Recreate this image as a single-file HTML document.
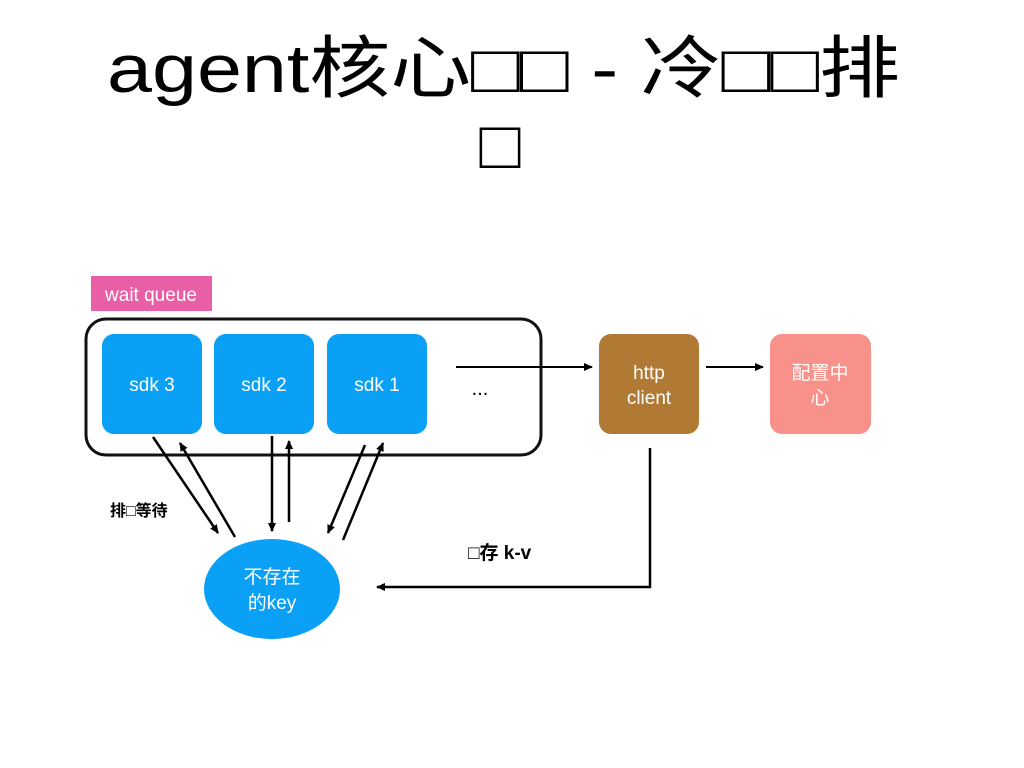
<!DOCTYPE html>
<html><head><meta charset="utf-8"><style>
html,body{margin:0;padding:0;background:#fff;width:1024px;height:768px;overflow:hidden}
svg{display:block}
</style></head><body>
<svg width="1024" height="768" viewBox="0 0 1024 768" xmlns="http://www.w3.org/2000/svg">
<defs>
<marker id="ah" markerWidth="10" markerHeight="10" refX="8" refY="5" orient="auto" markerUnits="userSpaceOnUse">
<path d="M0,1 L9,5 L0,9 z" fill="#000"/>
</marker>
</defs>
<g font-family="Liberation Sans, Noto Sans CJK SC, sans-serif">
<text x="107" y="92" font-size="68" fill="#000" textLength="793" lengthAdjust="spacingAndGlyphs">agent核心□□ - 冷□□排</text>
<text x="500" y="168" font-size="68" fill="#000" text-anchor="middle">□</text>

<rect x="91" y="276" width="121" height="35" fill="#e85fa6"/>
<text x="151" y="301" font-size="19" fill="#fff" text-anchor="middle">wait queue</text>

<rect x="86" y="319" width="455" height="136" rx="20" fill="#fff" stroke="#111" stroke-width="3"/>

<rect x="102" y="334" width="100" height="100" rx="12" fill="#0aa0f5"/>
<rect x="214" y="334" width="100" height="100" rx="12" fill="#0aa0f5"/>
<rect x="327" y="334" width="100" height="100" rx="12" fill="#0aa0f5"/>
<text x="152" y="391" font-size="19" fill="#fff" text-anchor="middle">sdk 3</text>
<text x="264" y="391" font-size="19" fill="#fff" text-anchor="middle">sdk 2</text>
<text x="377" y="391" font-size="19" fill="#fff" text-anchor="middle">sdk 1</text>
<text x="480" y="395" font-size="20" fill="#000" text-anchor="middle">...</text>

<line x1="456" y1="367" x2="592" y2="367" stroke="#000" stroke-width="2" marker-end="url(#ah)"/>
<rect x="599" y="334" width="100" height="100" rx="12" fill="#b07a35"/>
<text x="649" y="379" font-size="19" fill="#fff" text-anchor="middle">http</text>
<text x="649" y="404" font-size="19" fill="#fff" text-anchor="middle">client</text>

<line x1="706" y1="367" x2="763" y2="367" stroke="#000" stroke-width="2" marker-end="url(#ah)"/>
<rect x="770" y="334" width="101" height="100" rx="12" fill="#f7918a"/>
<text x="820" y="379" font-size="19" fill="#fff" text-anchor="middle">配置中</text>
<text x="820" y="404" font-size="19" fill="#fff" text-anchor="middle">心</text>

<polyline points="650,448 650,587 377,587" fill="none" stroke="#000" stroke-width="2.5" marker-end="url(#ah)"/>
<text x="468" y="559" font-size="19" font-weight="bold" fill="#000">□存 k-v</text>

<ellipse cx="272" cy="589" rx="68" ry="50" fill="#0aa0f5"/>
<text x="272" y="583" font-size="19" fill="#fff" text-anchor="middle">不存在</text>
<text x="272" y="609" font-size="19" fill="#fff" text-anchor="middle">的key</text>

<text x="110" y="516" font-size="16" font-weight="bold" fill="#000">排□等待</text>

<g stroke="#000" stroke-width="2.5">
<line x1="153" y1="437" x2="218" y2="533" marker-end="url(#ah)"/>
<line x1="235" y1="537" x2="180" y2="443" marker-end="url(#ah)"/>
<line x1="272" y1="436" x2="272" y2="531" marker-end="url(#ah)"/>
<line x1="289" y1="522" x2="289" y2="441" marker-end="url(#ah)"/>
<line x1="365" y1="445" x2="328" y2="533" marker-end="url(#ah)"/>
<line x1="343" y1="540" x2="383" y2="443" marker-end="url(#ah)"/>
</g>
</g>
</svg>
</body></html>
